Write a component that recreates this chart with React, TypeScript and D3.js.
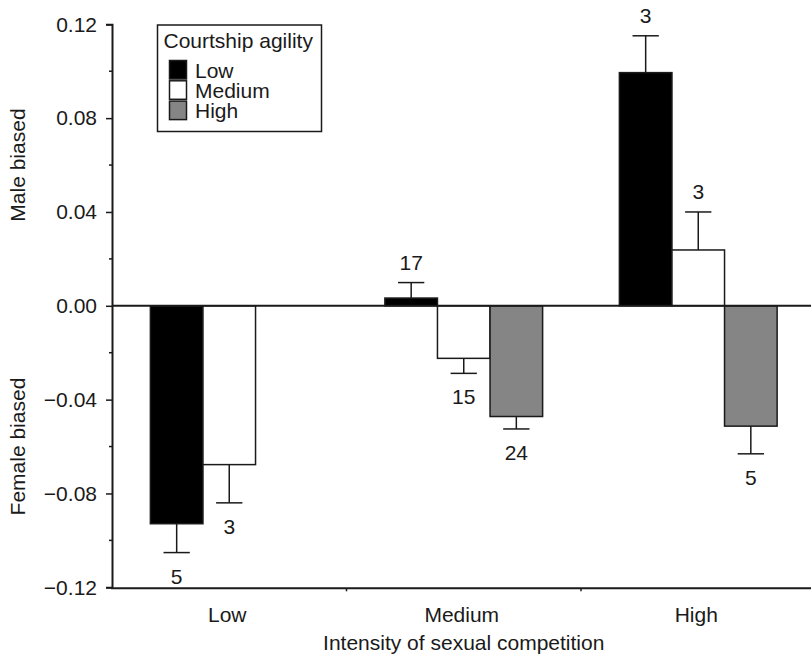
import { useEffect, useRef } from 'react'
import * as d3 from 'd3'

// intensity of sexual competition (x groups)
const competition = ['Low', 'Medium', 'High']
// courtship agility (bar series)
const agility = ['Low', 'Medium', 'High']
const agilityColors = ['#000000', '#ffffff', '#858585']

// mean bias per competition group, one array per agility level
const lowAgilityMeans = [-0.0929, 0.0033, 0.0994]
const mediumAgilityMeans = [-0.0677, -0.0224, 0.0238]
const highAgilityMeans = [null, -0.0472, -0.0513]

// standard errors
const lowAgilitySE = [0.0123, 0.0066, 0.0157]
const mediumAgilitySE = [0.0163, 0.0064, 0.0162]
const highAgilitySE = [null, 0.0053, 0.0118]

// sample sizes shown at the end of each error bar
const lowAgilityN = [5, 17, 3]
const mediumAgilityN = [3, 15, 3]
const highAgilityN = [null, 24, 5]

const yTicks = [-0.12, -0.08, -0.04, 0, 0.04, 0.08, 0.12]
const yMinorTicks = [-0.1, -0.06, -0.02, 0.02, 0.06, 0.1]

const W = 811
const H = 657
const FONT = '"Liberation Sans", Arial, Helvetica, sans-serif'
const INK = '#1a1a1a'

export default function App() {
  const svgRef = useRef<SVGSVGElement>(null)

  useEffect(() => {
    if (!svgRef.current) return
    document.body.style.margin = '0'

    const svg = d3.select(svgRef.current)
    svg.selectAll('*').remove()

    const left = 112
    const right = 815.5
    const top = 24.3
    const bottom = 587.3

    const y = d3.scaleLinear().domain([-0.12, 0.12]).range([bottom, top])
    const x0 = d3.scaleBand<string>().domain(competition).range([left, right])
    const x1 = d3.scaleBand<string>()
      .domain(agility)
      .range([0, x0.bandwidth()])
      .paddingOuter(0.73)

    const means = [lowAgilityMeans, mediumAgilityMeans, highAgilityMeans]
    const ses = [lowAgilitySE, mediumAgilitySE, highAgilitySE]
    const ns = [lowAgilityN, mediumAgilityN, highAgilityN]

    const rows: { g: string; s: string; si: number; v: number; se: number; n: number }[] = []
    competition.forEach((g, gi) => {
      agility.forEach((s, si) => {
        const v = means[si][gi]
        if (v == null) return
        rows.push({ g, s, si, v, se: ses[si][gi] as number, n: ns[si][gi] as number })
      })
    })

    const bw = x1.bandwidth()

    // bars
    svg.append('g')
      .selectAll('rect')
      .data(rows)
      .join('rect')
      .attr('x', d => x0(d.g)! + x1(d.s)!)
      .attr('y', d => y(Math.max(0, d.v)))
      .attr('width', bw)
      .attr('height', d => Math.abs(y(d.v) - y(0)))
      .attr('fill', d => agilityColors[d.si])
      .attr('stroke', INK)
      .attr('stroke-width', 1.5)

    // error bars
    const err = svg.append('g').attr('stroke', INK).attr('stroke-width', 1.5)
    rows.forEach(d => {
      const cx = x0(d.g)! + x1(d.s)! + bw / 2
      const end = d.v >= 0 ? d.v + d.se : d.v - d.se
      err.append('line')
        .attr('x1', cx).attr('x2', cx)
        .attr('y1', y(d.v)).attr('y2', y(end))
      err.append('line')
        .attr('x1', cx - bw / 4).attr('x2', cx + bw / 4)
        .attr('y1', y(end)).attr('y2', y(end))
      svg.append('text')
        .attr('x', cx)
        .attr('y', d.v >= 0 ? y(end) - 13 : y(end) + 31)
        .attr('text-anchor', 'middle')
        .attr('font-family', FONT)
        .attr('font-size', 21)
        .attr('fill', INK)
        .text(d.n)
    })

    // zero line
    svg.append('line')
      .attr('x1', left).attr('x2', W)
      .attr('y1', y(0)).attr('y2', y(0))
      .attr('stroke', INK)
      .attr('stroke-width', 2)

    // y axis
    const fmt = d3.format('.2f')
    const yAxis = svg.append('g')
      .attr('transform', `translate(${left},0)`)
      .call(d3.axisLeft(y).tickValues(yTicks).tickSize(6).tickPadding(9)
        .tickFormat(d => fmt(d as number).replace('-', '\u2013')))
    yAxis.select('.domain').attr('stroke', INK).attr('stroke-width', 2)
    yAxis.selectAll('.tick line').attr('stroke', INK).attr('stroke-width', 1.5)
    yAxis.selectAll('.tick text')
      .attr('font-family', FONT)
      .attr('font-size', 21)
      .attr('fill', INK)
    svg.append('g')
      .attr('transform', `translate(${left},0)`)
      .selectAll('line')
      .data(yMinorTicks)
      .join('line')
      .attr('x1', -3).attr('x2', 0)
      .attr('y1', d => y(d)).attr('y2', d => y(d))
      .attr('stroke', INK)
      .attr('stroke-width', 1.5)

    // x axis
    svg.append('line')
      .attr('x1', left - 1).attr('x2', W)
      .attr('y1', bottom + 1).attr('y2', bottom + 1)
      .attr('stroke', INK)
      .attr('stroke-width', 2)
    svg.append('g')
      .selectAll('line')
      .data(competition.slice(1))
      .join('line')
      .attr('x1', d => x0(d)!).attr('x2', d => x0(d)!)
      .attr('y1', bottom + 1).attr('y2', bottom + 4)
      .attr('stroke', INK)
      .attr('stroke-width', 1.5)
    svg.append('g')
      .selectAll('text')
      .data(competition)
      .join('text')
      .attr('x', d => x0(d)! + x0.bandwidth() / 2 - 2)
      .attr('y', 622)
      .attr('text-anchor', 'middle')
      .attr('font-family', FONT)
      .attr('font-size', 21)
      .attr('fill', INK)
      .text(d => d)

    svg.append('text')
      .attr('x', (left + right) / 2)
      .attr('y', 650)
      .attr('text-anchor', 'middle')
      .attr('font-family', FONT)
      .attr('font-size', 21)
      .attr('fill', INK)
      .text('Intensity of sexual competition')

    // y titles
    const yTitle = (label: string, cy: number) =>
      svg.append('text')
        .attr('transform', `translate(25,${cy}) rotate(-90)`)
        .attr('text-anchor', 'middle')
        .attr('font-family', FONT)
        .attr('font-size', 21)
        .attr('fill', INK)
        .text(label)
    yTitle('Male biased', (y(0) + y(0.12)) / 2)
    yTitle('Female biased', (y(0) + y(-0.12)) / 2)

    // legend
    const lg = svg.append('g').attr('transform', 'translate(157.5,25)')
    lg.append('rect')
      .attr('width', 164)
      .attr('height', 106.5)
      .attr('fill', 'white')
      .attr('stroke', INK)
      .attr('stroke-width', 1.5)
    lg.append('text')
      .attr('x', 6)
      .attr('y', 23)
      .attr('font-family', FONT)
      .attr('font-size', 21)
      .attr('fill', INK)
      .text('Courtship agility')
    agility.forEach((s, i) => {
      lg.append('rect')
        .attr('x', 12)
        .attr('y', 35.5 + i * 20.3)
        .attr('width', 17)
        .attr('height', 18.5)
        .attr('fill', agilityColors[i])
        .attr('stroke', INK)
        .attr('stroke-width', 1.5)
      lg.append('text')
        .attr('x', 37.5)
        .attr('y', 52.5 + i * 20.3)
        .attr('font-family', FONT)
        .attr('font-size', 21)
        .attr('fill', INK)
        .text(s)
    })
  }, [])

  return (
    <svg
      ref={svgRef}
      width={W}
      height={H}
      style={{ display: 'block', background: 'white' }}
    />
  )
}
